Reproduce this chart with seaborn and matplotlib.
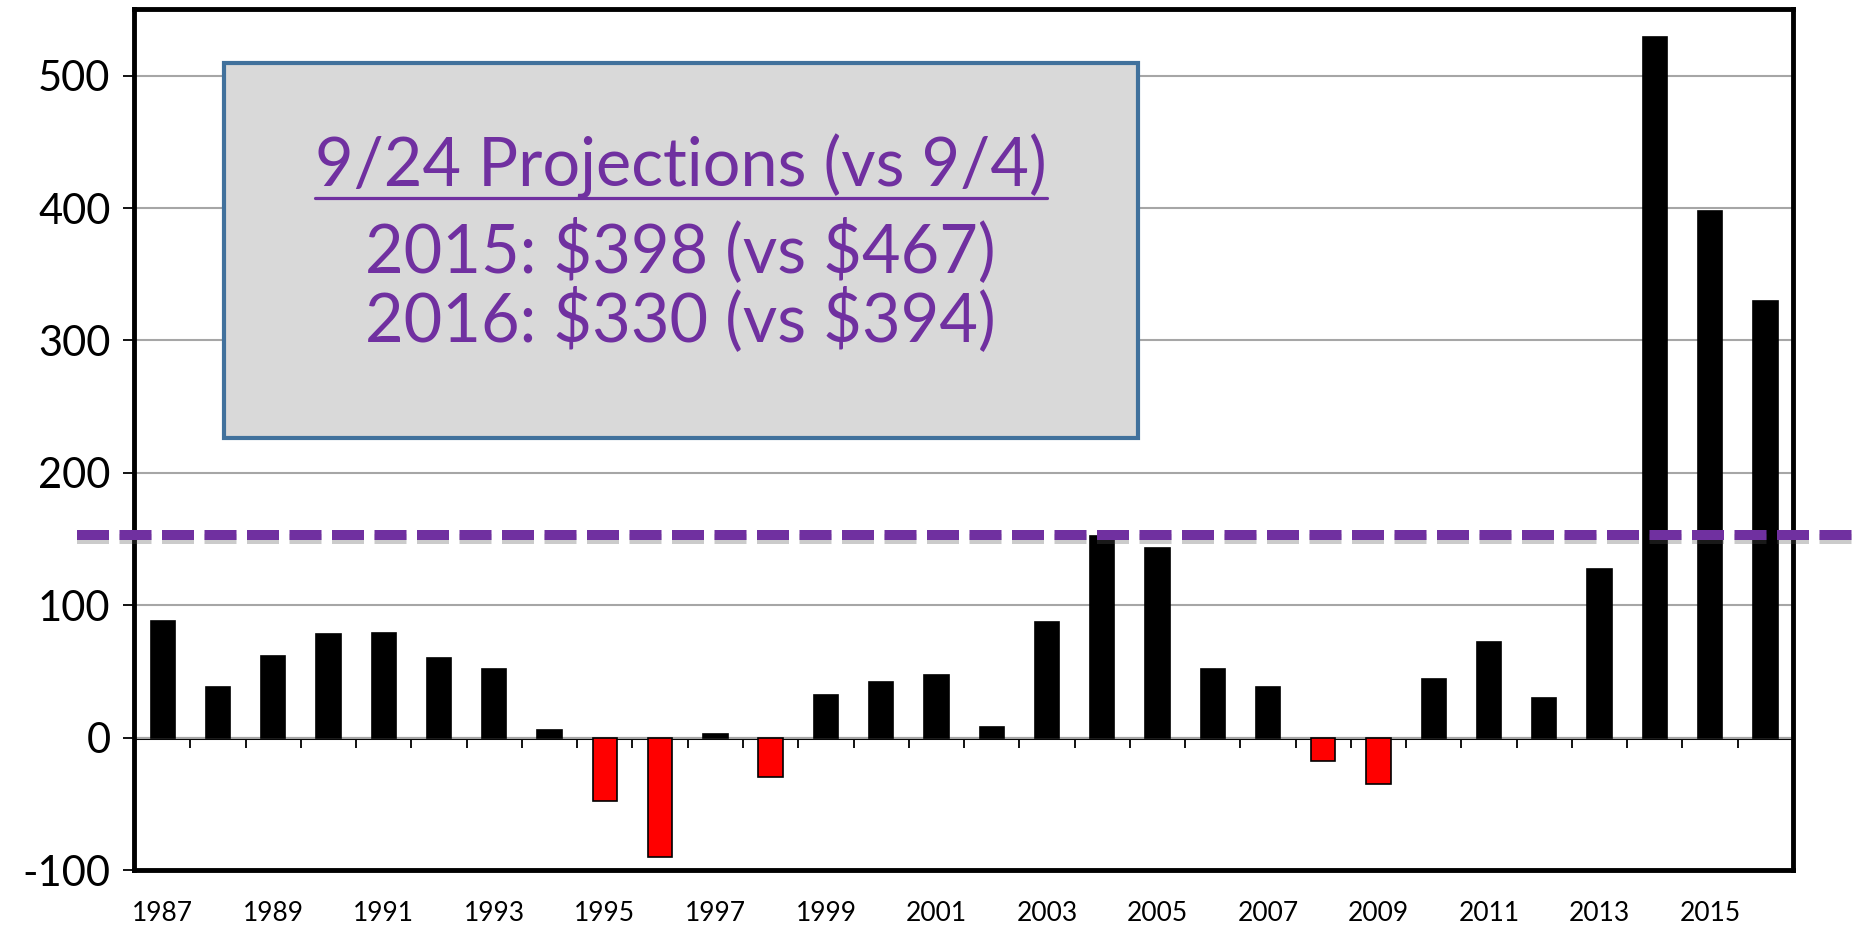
import matplotlib
matplotlib.use("Agg")
import matplotlib.pyplot as plt
import matplotlib.patheffects as pe
import matplotlib.transforms as mtransforms
from matplotlib.patches import Rectangle
from matplotlib.lines import Line2D
import numpy as np
import pandas as pd
import seaborn as sns

# data
years = list(range(1987, 2017))
values = [88, 38, 62, 78, 79, 60, 52, 6, -48, -90,
          3, -30, 32, 42, 47, 8, 87, 152, 143, 52,
          38, -18, -35, 44, 72, 30, 127, 529, 398, 330]
threshold = 153
year_labels = [str(y) for y in years[::2]]
y_ticks = [-100, 0, 100, 200, 300, 400, 500]
box_title = "9/24 Projections (vs 9/4)"
box_lines = ["2015: $398 (vs $467)", "2016: $330 (vs $394)"]

PURPLE = "#7030A0"


def build_frame():
    """bars as a dataframe with a colour per year"""
    df = pd.DataFrame({"Year": [str(y) for y in years], "Value": values})
    df["Color"] = np.where(df["Value"] < 0, "#FF0000", "#000000")
    return df


def draw_chart(df):
    sns.set_theme(style="white")
    plt.rcParams["font.family"] = ["Lato", "DejaVu Sans"]
    plt.rcParams["axes.unicode_minus"] = False

    fig = plt.figure(figsize=(18.64, 9.30), dpi=100)
    ax = fig.add_axes([0.0719, 0.0645, 0.89, 0.9253])

    sns.barplot(data=df, x="Year", y="Value", hue="Year",
                palette=dict(zip(df["Year"], df["Color"])), legend=False,
                saturation=1, width=0.44, edgecolor="black", linewidth=1.2,
                ax=ax, zorder=3)

    ymin, ymax = -100, 550
    ax.set_ylim(ymin, ymax)
    ax.set_xlim(-0.52, len(years) - 0.5)
    ax.set_yticks(y_ticks)
    ax.set_xticks(range(0, len(years), 2), year_labels)
    ax.set_xlabel("")
    ax.set_ylabel("")

    ax.yaxis.grid(True, color="#A6A6A6", linewidth=1.5)
    ax.xaxis.grid(False)
    ax.set_axisbelow(True)
    for sp in ax.spines.values():
        sp.set_visible(True)
        sp.set_color("black")
        sp.set_linewidth(3.5)

    ax.tick_params(axis="y", left=True, direction="out", length=8, width=1.3,
                   color="black", labelsize=30, pad=9, labelcolor="black")
    ax.tick_params(axis="x", bottom=True, length=0, labelsize=19, pad=22,
                   labelcolor="black")

    # zero line with category separators
    zero_frac = (0 - ymin) / (ymax - ymin)
    sec = ax.secondary_xaxis(zero_frac)
    sec.set_xticks(np.arange(0.5, len(years) - 1, 1))
    sec.tick_params(axis="x", bottom=True, direction="out", length=7, width=1.3,
                    color="black", labelbottom=False, labeltop=False)
    sec.spines["bottom"].set_linewidth(2.2)
    sec.spines["bottom"].set_color("black")

    # dashed purple threshold, running past the frame
    trans = mtransforms.blended_transform_factory(ax.transAxes, ax.transData)
    ax.plot([-0.0344, 1.0386], [threshold, threshold], transform=trans,
            clip_on=False, color=PURPLE, linewidth=7.2, dashes=(3.2, 1.05),
            dash_capstyle="butt", zorder=6,
            path_effects=[pe.SimpleLineShadow(offset=(0, -3), shadow_color="#555555", alpha=0.3),
                          pe.Normal()])

    # projection box
    box = Rectangle((0.054, 0.5025), 0.551, 0.4355, transform=ax.transAxes,
                    facecolor="#D9D9D9", edgecolor="#41719C", linewidth=3, zorder=7)
    ax.add_patch(box)
    cx = 0.054 + 0.551 / 2
    title = ax.text(cx, 0.794, box_title, transform=ax.transAxes, ha="center",
                    va="baseline", fontsize=48, color=PURPLE, zorder=8,
                    parse_math=False)
    ax.text(cx, 0.6946, box_lines[0], transform=ax.transAxes, ha="center",
            va="baseline", fontsize=48, color=PURPLE, zorder=8, parse_math=False)
    ax.text(cx, 0.6144, box_lines[1], transform=ax.transAxes, ha="center",
            va="baseline", fontsize=48, color=PURPLE, zorder=8, parse_math=False)

    # underline the title
    fig.canvas.draw()
    bb = title.get_window_extent()
    base = ax.transAxes.transform((cx, 0.794))[1]
    inv = fig.transFigure.inverted()
    (x0, y0), (x1, _) = inv.transform([(bb.x0, base - 11), (bb.x1, base - 11)])
    fig.add_artist(Line2D([x0, x1], [y0, y0], transform=fig.transFigure,
                          color=PURPLE, linewidth=2.3, zorder=9))

    fig.savefig("out.png", dpi=100)


if __name__ == "__main__":
    draw_chart(build_frame())
